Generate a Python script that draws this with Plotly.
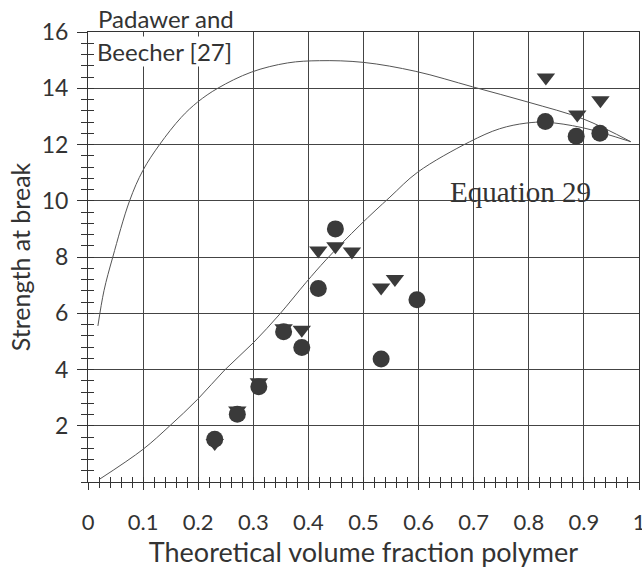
import plotly.graph_objects as go

# ---- data ----
pb_x = [0.018, 0.029, 0.045, 0.0755, 0.0997, 0.13, 0.169, 0.199, 0.2355, 0.296, 0.362, 0.42, 0.5, 0.595, 0.698, 0.8, 0.9, 0.985]
pb_y = [5.55, 6.8, 8.0, 10.0, 11.08, 12.0, 12.96, 13.51, 14.0, 14.57, 14.9, 14.98, 14.92, 14.6, 14.05, 13.5, 12.9, 12.1]

eq_x = [0.021, 0.0997, 0.148, 0.199, 0.248, 0.3, 0.348, 0.396, 0.432, 0.4935, 0.548, 0.5986, 0.692, 0.747, 0.795, 0.831, 0.897, 0.985]
eq_y = [0.1, 1.16, 1.99, 2.94, 3.98, 4.95, 5.97, 7.1, 7.9, 9.13, 10.13, 11.02, 12.09, 12.56, 12.76, 12.79, 12.6, 12.1]

circ_x = [0.23, 0.271, 0.31, 0.355, 0.388, 0.418, 0.449, 0.532, 0.597, 0.830, 0.886, 0.929]
circ_y = [1.52, 2.41, 3.39, 5.34, 4.78, 6.88, 9.0, 4.37, 6.48, 12.82, 12.29, 12.4]

tri_x = [0.23, 0.271, 0.31, 0.355, 0.388, 0.418, 0.449, 0.479, 0.532, 0.557, 0.831, 0.888, 0.930]
tri_y = [1.39, 2.54, 3.55, 5.47, 5.41, 8.23, 8.38, 8.20, 6.92, 7.22, 14.38, 13.07, 13.57]

x_ticks = [0, 0.1, 0.2, 0.3, 0.4, 0.5, 0.6, 0.7, 0.8, 0.9, 1]
x_labels = ["0", "0.1", "0.2", "0.3", "0.4", "0.5", "0.6", "0.7", "0.8", "0.9", "1"]
y_ticks = [2, 4, 6, 8, 10, 12, 14, 16]
y_labels = ["2", "4", "6", "8", "10", "12", "14", "16"]

FONT = "Lato"
INK = "#333333"
MARK = "#3a3a3a"
BG = "#ffffff"

fig = go.Figure()
fig.add_trace(go.Scatter(x=pb_x, y=pb_y, mode="lines",
                         line=dict(color="#555555", width=1, shape="spline", smoothing=1.0),
                         showlegend=False, hoverinfo="skip"))
fig.add_trace(go.Scatter(x=eq_x, y=eq_y, mode="lines",
                         line=dict(color="#555555", width=1, shape="spline", smoothing=1.0),
                         showlegend=False, hoverinfo="skip"))
fig.add_trace(go.Scatter(x=tri_x, y=tri_y, mode="markers",
                         marker=dict(symbol="triangle-down", size=16, color=MARK, line=dict(width=0)),
                         showlegend=False))
fig.add_trace(go.Scatter(x=circ_x, y=circ_y, mode="markers",
                         marker=dict(symbol="circle", size=17, color=MARK, line=dict(width=0)),
                         showlegend=False))
# empty trace so the overlay axes (inside ticks) are drawn
fig.add_trace(go.Scatter(x=[], y=[], xaxis="x2", yaxis="y2", showlegend=False, hoverinfo="skip"))

fig.update_layout(
    width=642, height=573,
    margin=dict(l=88, r=3, t=32, b=91),
    paper_bgcolor=BG, plot_bgcolor=BG,
    font=dict(family=FONT, size=22, color=INK),
    xaxis=dict(range=[0, 1], tickvals=x_ticks, ticktext=x_labels, automargin=False,
               showgrid=True, gridcolor="#444444", gridwidth=1,
               zeroline=False, showline=True, linecolor="#333333", linewidth=1, mirror=True,
               ticks="outside", ticklen=7, tickcolor="#333333", ticklabeloverflow="allow",
               minor=dict(dtick=0.02, ticks="outside", ticklen=5, tickcolor="#333333", showgrid=False),
               tickfont=dict(family=FONT, size=22, color=INK), ticklabelstandoff=14,
               title=dict(text="Theoretical volume fraction polymer", font=dict(family=FONT, size=27, color=INK), standoff=6)),
    yaxis=dict(range=[0, 16], tickvals=y_ticks, ticktext=y_labels, automargin=False,
               showgrid=True, gridcolor="#444444", gridwidth=1,
               zeroline=False, showline=True, linecolor="#333333", linewidth=1, mirror=True,
               ticks="outside", ticklen=10, tickcolor="#333333",
               minor=dict(dtick=0.4, ticks="outside", ticklen=6, tickcolor="#333333", showgrid=False),
               tickfont=dict(family=FONT, size=23, color=INK), ticklabelstandoff=4,
               title=dict(text="Strength at break", font=dict(family=FONT, size=25, color=INK), standoff=3)),
    xaxis2=dict(range=[0, 1], overlaying="x", anchor="y", side="bottom", automargin=False,
                showgrid=False, zeroline=False, showticklabels=False,
                tickvals=x_ticks, ticks="inside", ticklen=5, tickcolor="#333333",
                minor=dict(dtick=0.02, ticks="inside", ticklen=5, tickcolor="#333333", showgrid=False)),
    yaxis2=dict(range=[0, 16], overlaying="y", anchor="x", side="left", automargin=False,
                showgrid=False, zeroline=False, showticklabels=False,
                tickvals=y_ticks, ticks="inside", ticklen=6, tickcolor="#333333",
                minor=dict(dtick=0.4, ticks="inside", ticklen=6, tickcolor="#333333", showgrid=False)),
    annotations=[
        dict(text="Padawer and", xref="paper", yref="paper", x=(96 - 88) / 551, y=(482 - 19) / 450,
             xanchor="left", yanchor="middle", showarrow=False,
             font=dict(family=FONT, size=24, color=INK)),
        dict(text="Beecher [27]", xref="paper", yref="paper", x=(96 - 88) / 551, y=(482 - 51) / 450,
             xanchor="left", yanchor="middle", showarrow=False, bgcolor=BG, borderpad=0,
             font=dict(family=FONT, size=24, color=INK)),
        dict(text="Equation 29", xref="paper", yref="paper", x=(520 - 88) / 551, y=(482 - 192) / 450,
             xanchor="center", yanchor="middle", showarrow=False,
             font=dict(family="Liberation Serif", size=29, color=INK)),
    ],
)

fig.write_html("out.html", config={"displayModeBar": False},
               post_script="document.body.style.margin='0px';document.body.style.overflow='hidden';")
